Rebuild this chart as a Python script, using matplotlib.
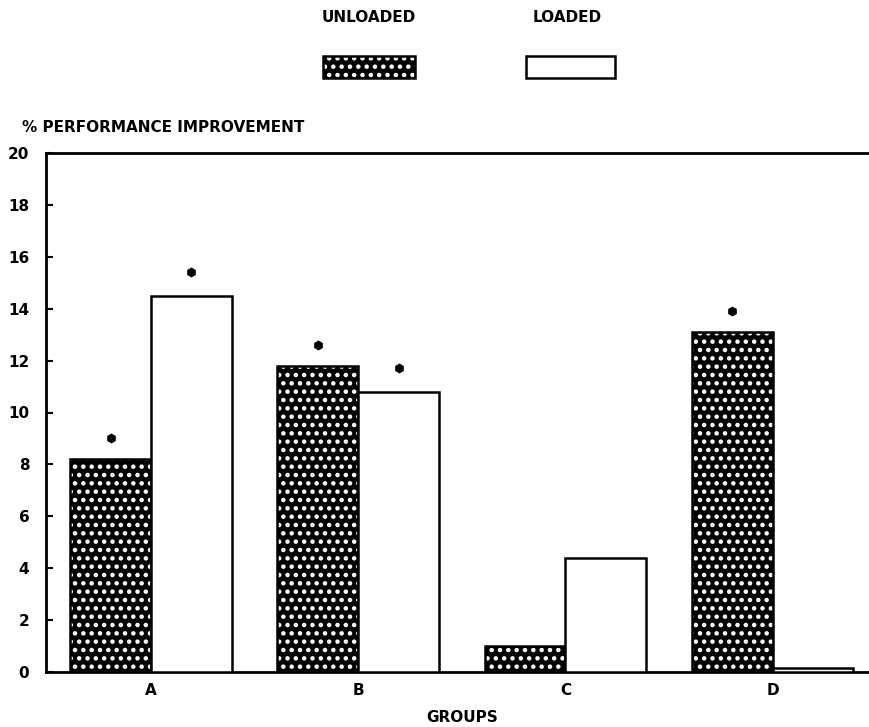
import matplotlib
matplotlib.use("Agg")
import matplotlib.pyplot as plt
import numpy as np
from matplotlib.patches import Rectangle

groups = ["A", "B", "C", "D"]
unloaded = [8.2, 11.8, 1.0, 13.1]
loaded = [14.5, 10.8, 4.4, 0.15]
unloaded_sig = [True, True, False, True]
loaded_sig = [True, True, False, False]
yticks = [0, 2, 4, 6, 8, 10, 12, 14, 16, 18, 20]

plt.rcParams['font.family'] = ['DejaVu Sans']
plt.rcParams['font.weight'] = 'bold'
plt.rcParams['hatch.linewidth'] = 2.0

fig = plt.figure(figsize=(8.7, 7.27), dpi=100)
ax = fig.add_axes([46/870, 1-672/727, (870-46)/870, (672-153)/727])

x = np.arange(len(groups))
w = 0.39

# unloaded: black with white dots
ax.bar(x - w/2, unloaded, width=w, color='black', edgecolor='white', hatch='..', linewidth=0, zorder=2)
ax.bar(x - w/2, unloaded, width=w, facecolor='none', edgecolor='black', linewidth=1.8, zorder=3)
ax.bar(x + w/2, loaded, width=w, facecolor='white', edgecolor='black', linewidth=1.8, zorder=3)

for xi, v, s in zip(x - w/2, unloaded, unloaded_sig):
    if s:
        ax.plot(xi, v + 0.8, marker='h', color='black', markersize=6, zorder=4)
for xi, v, s in zip(x + w/2, loaded, loaded_sig):
    if s:
        ax.plot(xi, v + 0.9, marker='h', color='black', markersize=6, zorder=4)

ax.set_xlim(-0.507, 3.47)
ax.set_ylim(0, 20)
ax.set_yticks(yticks)
ax.set_yticklabels([str(t) for t in yticks], fontsize=11, fontweight='bold')
ax.set_xticks(x)
ax.set_xticklabels(groups, fontsize=11, fontweight='bold')
ax.tick_params(axis='y', direction='in', length=5, width=1.5, pad=12)
ax.tick_params(axis='x', length=0, pad=8)
ax.spines['right'].set_visible(False)
for sp in ['left', 'top', 'bottom']:
    ax.spines[sp].set_linewidth(2)

fig.text(462/870, 1-717/727, "GROUPS", ha='center', va='center', fontsize=11, fontweight='bold')
fig.text(22/870, 1-127/727, "% PERFORMANCE IMPROVEMENT", ha='left', va='center', fontsize=11, fontweight='bold')

# legend
fig.text(369/870, 1-18/727, "UNLOADED", ha='center', va='center', fontsize=11, fontweight='bold')
fig.text(567/870, 1-18/727, "LOADED", ha='center', va='center', fontsize=11, fontweight='bold')
r1 = Rectangle((323/870, 1-78/727), 92/870, 22/727, transform=fig.transFigure,
               facecolor='black', edgecolor='white', hatch='..', linewidth=0)
r1b = Rectangle((323/870, 1-78/727), 92/870, 22/727, transform=fig.transFigure,
                facecolor='none', edgecolor='black', linewidth=1.8)
r2 = Rectangle((526/870, 1-78/727), 89/870, 22/727, transform=fig.transFigure,
               facecolor='white', edgecolor='black', linewidth=1.8)
for r in (r1, r1b, r2):
    fig.patches.append(r)

fig.savefig("out.png", dpi=100)
